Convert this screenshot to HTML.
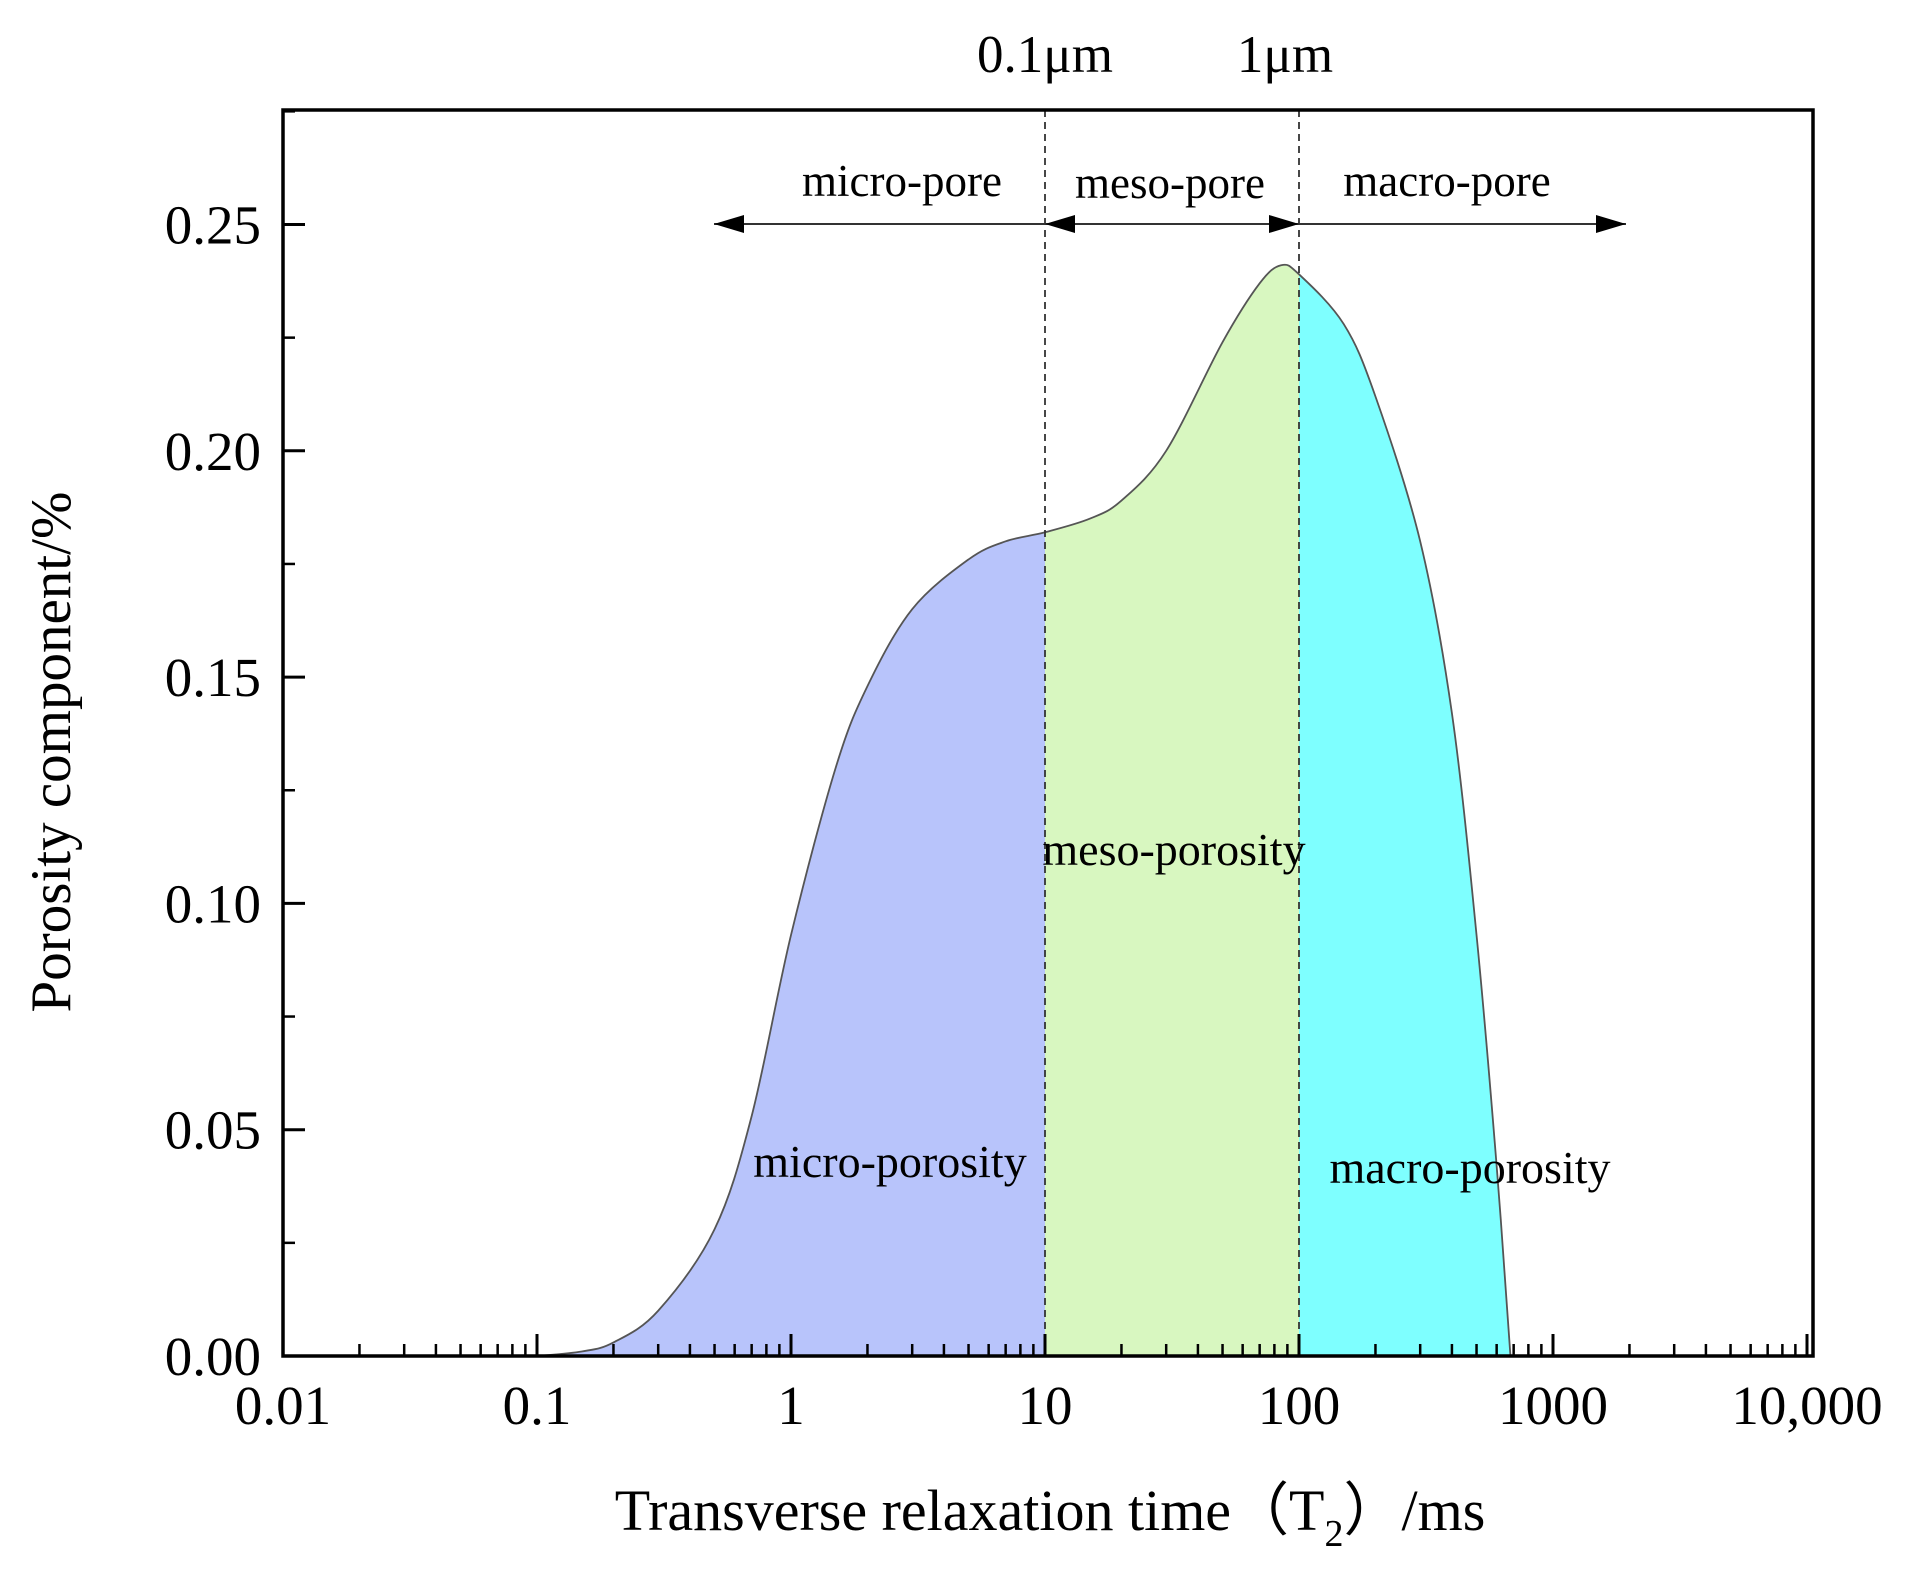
<!DOCTYPE html>
<html><head><meta charset="utf-8"><style>
html,body{margin:0;padding:0;background:#fff;}
svg{display:block;font-family:"Liberation Serif",serif;}
</style></head><body>
<svg id="chart" width="1920" height="1580" viewBox="0 0 1920 1580"></svg>
<script>
const t2Values = [0.1,0.15,0.2,0.3,0.5,0.7,1,1.5,2,3,5,7,10,15,20,30,50,70,85,100,150,200,300,400,500,600,680];
const porosityValues = [0,0.001,0.003,0.01,0.028,0.053,0.093,0.13,0.148,0.165,0.176,0.18,0.182,0.185,0.189,0.2,0.224,0.237,0.241,0.239,0.228,0.212,0.18,0.142,0.093,0.042,0];
const xTickLabels = ["0.01","0.1","1","10","100","1000","10,000"];
const xTickValues = [0.01,0.1,1,10,100,1000,10000];
const yTickValues = [0,0.05,0.10,0.15,0.20,0.25];
const yTickLabels = ["0.00","0.05","0.10","0.15","0.20","0.25"];
const boundaries = [10,100];

const L=283,R=1813,T=110,B=1356;
const X0=283, DEC=254;
function xs(v){return X0+(Math.log10(v)+2)*DEC;}
function ys(v){return B-v/0.05*226.3;}
const NS="http://www.w3.org/2000/svg";
const svg=document.getElementById('chart');
function el(tag,attrs,parent){const e=document.createElementNS(NS,tag);for(const k in attrs)e.setAttribute(k,attrs[k]);(parent||svg).appendChild(e);return e;}

const pts=t2Values.map((t,i)=>[xs(t),ys(porosityValues[i])]);
let d=`M${pts[0][0]},${pts[0][1]}`;
for(let i=0;i<pts.length-1;i++){
  const p0=pts[Math.max(0,i-1)],p1=pts[i],p2=pts[i+1],p3=pts[Math.min(pts.length-1,i+2)];
  const c1=[p1[0]+(p2[0]-p0[0])/6,p1[1]+(p2[1]-p0[1])/6];
  const c2=[p2[0]-(p3[0]-p1[0])/6,p2[1]-(p3[1]-p1[1])/6];
  d+=` C${c1[0]},${c1[1]} ${c2[0]},${c2[1]} ${p2[0]},${p2[1]}`;
}
const fillD=d+` L${pts[pts.length-1][0]},${B} L${pts[0][0]},${B} Z`;
const defs=el('defs',{});
const regions=[[xs(0.01),xs(boundaries[0]),'#b8c4fb','micro-porosity-area'],[xs(boundaries[0]),xs(boundaries[1]),'#d8f7c0','meso-porosity-area'],[xs(boundaries[1]),xs(10000),'#7effff','macro-porosity-area']];
regions.forEach((r,i)=>{
  const cp=el('clipPath',{id:'cp'+i},defs);
  el('rect',{x:r[0],y:0,width:r[1]-r[0],height:1580},cp);
  const p=el('path',{d:fillD,fill:r[2],'clip-path':`url(#cp${i})`});
  
  
});
const line=el('path',{d:d,fill:'none',stroke:'#555',"stroke-width":1.8});



boundaries.forEach((b,i)=>{
  const l=el('line',{x1:xs(b),x2:xs(b),y1:T,y2:B,stroke:'#333','stroke-width':1.8,'stroke-dasharray':'7,5'});
  
  
});

const fr=el('rect',{x:L,y:T,width:R-L,height:B-T,fill:'none',stroke:'#000','stroke-width':3.5});



xTickValues.forEach((v,i)=>{
  const x=xs(v);
  el('line',{x1:x,x2:x,y1:B,y2:B-22,stroke:'#000','stroke-width':3});
  const t=el('text',{x:x,y:B+68,'font-size':55,'text-anchor':'middle'});
  t.textContent=xTickLabels[i];
  
  
  if(i<xTickValues.length-1){for(let k=2;k<=9;k++){const xm=xs(v*k);el('line',{x1:xm,x2:xm,y1:B,y2:B-12,stroke:'#000','stroke-width':2.5});}}
});
yTickValues.forEach((v,i)=>{
  const y=ys(v);
  el('line',{x1:L,x2:L+22,y1:y,y2:y,stroke:'#000','stroke-width':3});
  const t=el('text',{x:L-22,y:y+19,'font-size':55,'text-anchor':'end'});
  t.textContent=yTickLabels[i];
  
  
  const ym=ys(v+0.025);if(ym>T)el('line',{x1:L,x2:L+12,y1:ym,y2:ym,stroke:'#000','stroke-width':2.5});
});

const ay=224;
function arrowLine(x1,x2){el('line',{x1:x1,x2:x2,y1:ay,y2:ay,stroke:'#333','stroke-width':2});}
function head(x,dir){el('polygon',{points:`${x},${ay} ${x-dir*30},${ay-9} ${x-dir*30},${ay+9}`,fill:'#000'});}
arrowLine(714,1626);
head(714,-1);head(xs(10),-1);head(xs(100),1);head(1626,1);

function txt(s,x,y,fs,name,anchor){const t=el('text',{x:x,y:y,'font-size':fs,'text-anchor':anchor||'middle'});t.textContent=s;return t;}
txt('micro-pore',902,196,45,'micro-pore-label');
txt('meso-pore',1170,198,45,'meso-pore-label');
txt('macro-pore',1447,196,45,'macro-pore-label');
txt('0.1μm',xs(10),72,53,'label-0.1um');
txt('1μm',xs(100)-14,72,53,'label-1um');
txt('meso-porosity',1174,865,46,'meso-porosity-label');
txt('micro-porosity',890,1177,46,'micro-porosity-label');
txt('macro-porosity',1470,1183,46,'macro-porosity-label');

const xt=el('text',{x:1050,y:1530,'font-size':58,'text-anchor':'middle'});


xt.innerHTML='Transverse relaxation time（T<tspan font-size="38" dy="16">2</tspan><tspan dy="-16">）/ms</tspan>';
const yt=el('text',{x:0,y:0,'font-size':57,'text-anchor':'middle',transform:'translate(70,752) rotate(-90)'});
yt.textContent='Porosity component/%';


</script>
</body></html>
